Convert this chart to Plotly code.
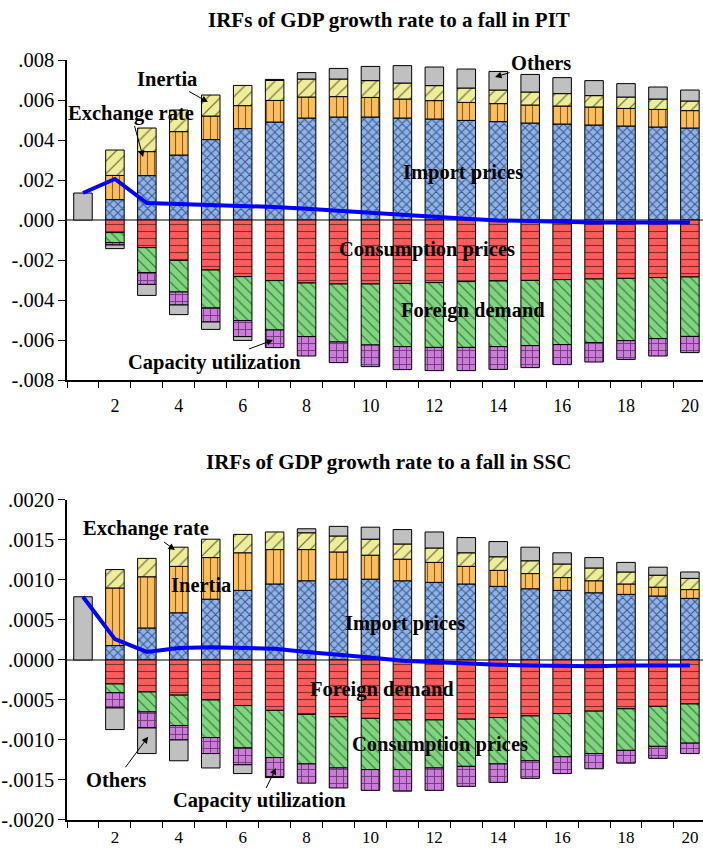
import plotly.graph_objects as go

periods = list(range(1, 21))
x_tick_vals = [2, 4, 6, 8, 10, 12, 14, 16, 18, 20]

# ---------------- PIT panel ----------------
pit_import = [None, 0.00102, 0.00222, 0.00325, 0.00402, 0.00457, 0.00490, 0.00510, 0.00515, 0.00515,
              0.00510, 0.00505, 0.00498, 0.00492, 0.00485, 0.00480, 0.00475, 0.00470, 0.00465, 0.00460]
pit_exchange = [None, 0.00121, 0.00120, 0.00117, 0.00118, 0.00115, 0.00108, 0.00105, 0.00102, 0.00098,
                0.00095, 0.00092, 0.00090, 0.00090, 0.00090, 0.00090, 0.00090, 0.00088, 0.00088, 0.00087]
pit_inertia = [None, 0.00127, 0.00118, 0.00108, 0.00105, 0.00101, 0.00100, 0.00090, 0.00088, 0.00084,
               0.00080, 0.00075, 0.00072, 0.00068, 0.00065, 0.00062, 0.00057, 0.00057, 0.00052, 0.00048]
pit_consumption = [None, -0.00063, -0.00138, -0.00202, -0.00250, -0.00283, -0.00303, -0.00315, -0.00320, -0.00320,
                   -0.00317, -0.00313, -0.00308, -0.00305, -0.00302, -0.00298, -0.00295, -0.00292, -0.00288, -0.00285]
pit_foreign = [None, -0.00050, -0.00125, -0.00158, -0.00190, -0.00220, -0.00247, -0.00268, -0.00290, -0.00305,
               -0.00316, -0.00324, -0.00329, -0.00328, -0.00326, -0.00325, -0.00318, -0.00311, -0.00305, -0.00297]
pit_capacity = [None, -0.00012, -0.00059, -0.00065, -0.00070, -0.00080, -0.00088, -0.00097, -0.00103, -0.00108,
                -0.00115, -0.00116, -0.00116, -0.00114, -0.00110, -0.00100, -0.00097, -0.00094, -0.00087, -0.00081]
pit_others = [0.00135, -0.00018, -0.00055, -0.00048, -0.00037, -0.00019, 0.00005, 0.00032, 0.00053, 0.00071,
              0.00087, 0.00093, 0.00095, 0.00093, 0.00088, 0.00080, 0.00075, 0.00067, 0.00060, 0.00055]
pit_total = [0.00135, 0.00205, 0.00085, 0.00080, 0.00079, 0.00072, 0.00065, 0.00056, 0.00045, 0.00036,
             0.00027, 0.00016, 0.00006, -0.00002, -0.00007, -0.00010, -0.00012, -0.00013, -0.00014, -0.00013]
pit_ytick_vals = [0.008, 0.006, 0.004, 0.002, 0.0, -0.002, -0.004, -0.006, -0.008]
pit_ytick_text = [".008", ".006", ".004", ".002", ".000", "-.002", "-.004", "-.006", "-.008"]

# ---------------- SSC panel ----------------
ssc_import = [None, 0.00018, 0.00040, 0.00059, 0.00076, 0.00087, 0.00095, 0.00099, 0.00101, 0.00101,
              0.00099, 0.00097, 0.00095, 0.00092, 0.00089, 0.00087, 0.00084, 0.00082, 0.00080, 0.00077]
ssc_inertia = [None, 0.00072, 0.00064, 0.00058, 0.00052, 0.00047, 0.00043, 0.00039, 0.00034, 0.00030,
               0.00027, 0.00025, 0.00022, 0.00020, 0.00019, 0.00016, 0.00015, 0.00013, 0.00011, 0.00011]
ssc_exchange = [None, 0.00023, 0.00023, 0.00024, 0.00023, 0.00023, 0.00022, 0.00021, 0.00020, 0.00020,
                0.00019, 0.00018, 0.00017, 0.00017, 0.00016, 0.00017, 0.00016, 0.00015, 0.00015, 0.00014]
ssc_foreign = [None, -0.00030, -0.00040, -0.00044, -0.00050, -0.00057, -0.00063, -0.00068, -0.00071, -0.00073,
               -0.00075, -0.00075, -0.00074, -0.00072, -0.00070, -0.00067, -0.00064, -0.00061, -0.00058, -0.00055]
ssc_consumption = [None, -0.00011, -0.00025, -0.00038, -0.00047, -0.00053, -0.00059, -0.00062, -0.00064, -0.00064,
                   -0.00062, -0.00060, -0.00059, -0.00058, -0.00056, -0.00054, -0.00053, -0.00052, -0.00050, -0.00049]
ssc_capacity = [None, -0.00019, -0.00020, -0.00018, -0.00020, -0.00021, -0.00024, -0.00024, -0.00025, -0.00026,
                -0.00027, -0.00028, -0.00025, -0.00023, -0.00022, -0.00021, -0.00019, -0.00016, -0.00015, -0.00013]
ssc_others = [0.00079, -0.00027, -0.00032, -0.00026, -0.00018, -0.00011, -0.00001, 0.00005, 0.00012, 0.00015,
              0.00018, 0.00020, 0.00019, 0.00019, 0.00017, 0.00014, 0.00013, 0.00012, 0.00010, 0.00008]
ssc_total = [0.00079, 0.00026, 0.00010, 0.00015, 0.00016, 0.00015, 0.00014, 0.00010, 0.00007, 0.00003,
             -0.00001, -0.00003, -0.00005, -0.00006, -0.00007, -0.00008, -0.00008, -0.00007, -0.00007, -0.00007]
ssc_ytick_vals = [0.002, 0.0015, 0.001, 0.0005, 0.0, -0.0005, -0.001, -0.0015, -0.002]
ssc_ytick_text = [".0020", ".0015", ".0010", ".0005", ".0000", "-.0005", "-.0010", "-.0015", "-.0020"]

# ---------------- styles ----------------
STYLE = {
    "blue":   dict(color="#8CB4F2", shape="x", size=6, solidity=0.33),
    "orange": dict(color="#FFBE5E", shape="|", size=7, solidity=0.16),
    "yellow": dict(color="#EEEE99", shape="/", size=9, solidity=0.14),
    "red":    dict(color="#FF5C5C", shape="-", size=7, solidity=0.16),
    "green":  dict(color="#7ED67E", shape="\\", size=7, solidity=0.16),
    "purple": dict(color="#CC7ADC", shape="+", size=7, solidity=0.24),
    "gray":   dict(color="#C0C0C0", shape="", size=8, solidity=0.1),
}
FONT = "Liberation Serif, Times New Roman, serif"

fig = go.Figure()


def add_bar(name, values, style, xa, ya):
    s = STYLE[style]
    fig.add_trace(go.Bar(
        x=periods, y=values, name=name, width=0.58, xaxis=xa, yaxis=ya,
        marker=dict(color=s["color"], line=dict(color="black", width=1),
                    pattern=dict(shape=s["shape"], fgcolor="black", size=s["size"],
                                 solidity=s["solidity"])),
        showlegend=False,
    ))


# top panel
add_bar("Import prices", pit_import, "blue", "x", "y")
add_bar("Exchange rate", pit_exchange, "orange", "x", "y")
add_bar("Inertia", pit_inertia, "yellow", "x", "y")
add_bar("Consumption prices", pit_consumption, "red", "x", "y")
add_bar("Foreign demand", pit_foreign, "green", "x", "y")
add_bar("Capacity utilization", pit_capacity, "purple", "x", "y")
add_bar("Others", pit_others, "gray", "x", "y")
fig.add_trace(go.Scatter(x=periods, y=pit_total, mode="lines", line=dict(color="#0000FF", width=4),
                         showlegend=False, xaxis="x", yaxis="y"))

# bottom panel
add_bar("Import prices", ssc_import, "blue", "x2", "y2")
add_bar("Inertia", ssc_inertia, "orange", "x2", "y2")
add_bar("Exchange rate", ssc_exchange, "yellow", "x2", "y2")
add_bar("Foreign demand", ssc_foreign, "red", "x2", "y2")
add_bar("Consumption prices", ssc_consumption, "green", "x2", "y2")
add_bar("Capacity utilization", ssc_capacity, "purple", "x2", "y2")
add_bar("Others", ssc_others, "gray", "x2", "y2")
fig.add_trace(go.Scatter(x=periods, y=ssc_total, mode="lines", line=dict(color="#0000FF", width=4),
                         showlegend=False, xaxis="x2", yaxis="y2"))

xaxis_common = dict(
    range=[0.5, 20.41], tickmode="array", tickvals=x_tick_vals, automargin=False,
    ticks="outside", tickcolor="rgba(0,0,0,0)",
    showline=True, linecolor="black", linewidth=1.5, showgrid=False, zeroline=False,
    minor=dict(tickmode="array", tickvals=[p - 0.5 for p in periods],
               ticks="outside", ticklen=6, tickcolor="black", tickwidth=1, showgrid=False),
)
yaxis_common = dict(
    tickmode="array", ticks="outside", ticklen=7, tickcolor="black", automargin=False,
    showline=True, linecolor="black", linewidth=1.5, showgrid=False,
    zeroline=True, zerolinecolor="#808080", zerolinewidth=1.5,
    tickfont=dict(family=FONT, size=20.5, color="black"),
)

fig.update_layout(
    width=703, height=849,
    margin=dict(l=67, r=0, t=0, b=0, autoexpand=False),
    paper_bgcolor="white", plot_bgcolor="white",
    barmode="relative", bargap=0.4,
    xaxis=dict(xaxis_common, anchor="y", domain=[0, 1], ticklen=9,
               tickfont=dict(family=FONT, size=18, color="black")),
    yaxis=dict(yaxis_common, range=[-0.008, 0.008], tickvals=pit_ytick_vals, ticktext=pit_ytick_text,
               domain=[0.5524, 0.9293], anchor="x"),
    xaxis2=dict(xaxis_common, anchor="y2", domain=[0, 1], ticklen=1,
                tickfont=dict(family=FONT, size=17, color="black")),
    yaxis2=dict(yaxis_common, range=[-0.002, 0.002], tickvals=ssc_ytick_vals, ticktext=ssc_ytick_text,
                domain=[0.0342, 0.4111], anchor="x2"),
    font=dict(family=FONT, color="black"),
)

LBL = dict(family=FONT, size=20.5, color="black")


def label(text, x, y, xref, yref, ax=None, ay=None):
    if ax is None:
        fig.add_annotation(text="<b>%s</b>" % text, x=x, y=y, xref=xref, yref=yref,
                           showarrow=False, font=LBL)
    else:
        fig.add_annotation(text="<b>%s</b>" % text, x=x, y=y, xref=xref, yref=yref,
                           showarrow=True, ax=ax, ay=ay, arrowhead=2, arrowsize=1.3,
                           arrowwidth=1, arrowcolor="black", font=LBL)


# titles
for title_text, ty in [("IRFs of GDP growth rate to a fall in PIT", 0.9764),
                       ("IRFs of GDP growth rate to a fall in SSC", 0.4558)]:
    fig.add_annotation(text="<b>%s</b>" % title_text, x=0.506, y=ty, xref="paper", yref="paper",
                       xanchor="center", yanchor="middle", showarrow=False,
                       font=dict(family=FONT, size=21, color="black"))

# top panel labels
label("Inertia", 4.91, 0.0059, "x", "y", ax=-41, ay=-23)
label("Exchange rate", 2.88, 0.00315, "x", "y", ax=-12, ay=-44)
label("Others", 13.9, 0.00715, "x", "y", ax=46, ay=-14)
label("Import prices", 12.9, 0.0024, "x", "y")
label("Consumption prices", 11.77, -0.00145, "x", "y")
label("Foreign demand", 13.2, -0.0045, "x", "y")
label("Capacity utilization", 6.95, -0.006, "x", "y", ax=-59, ay=22)

# bottom panel labels
label("Exchange rate", 3.88, 0.001375, "x2", "y2", ax=-29, ay=-21)
label("Inertia", 4.69, 0.00094, "x2", "y2")
label("Import prices", 11.08, 0.00045, "x2", "y2")
label("Foreign demand", 10.36, -0.000375, "x2", "y2")
label("Consumption prices", 12.17, -0.00106, "x2", "y2")
label("Others", 3.04, -0.00096, "x2", "y2", ax=-32, ay=43)
label("Capacity utilization", 7.04, -0.00135, "x2", "y2", ax=-16, ay=33)

fig.write_html("out.html", config={"displayModeBar": False},
               post_script="document.body.style.margin='0';document.body.style.padding='0';"
                           "document.documentElement.style.overflow='hidden';")
